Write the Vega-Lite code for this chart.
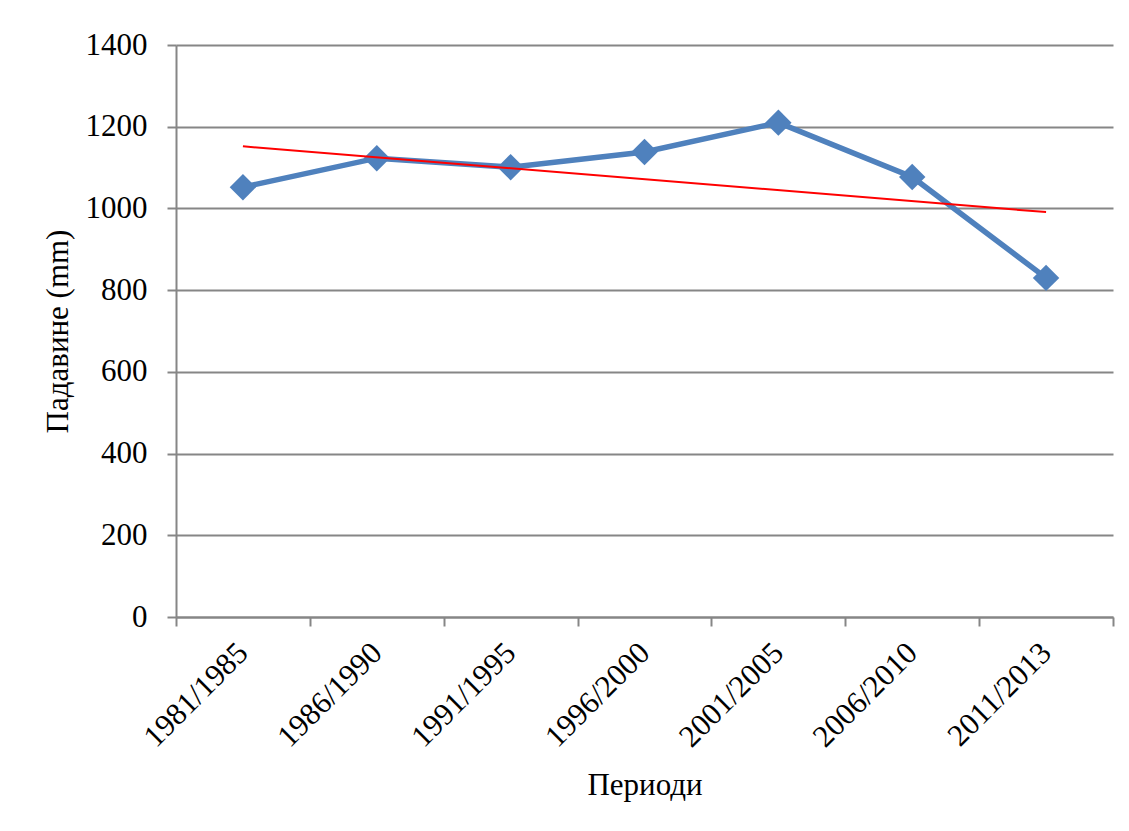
{
  "$schema": "https://vega.github.io/schema/vega-lite/v6.json",
  "autosize": "none",
  "width": 937,
  "height": 572,
  "padding": {"left": 176, "top": 45, "right": 16, "bottom": 214},
  "background": "white",
  "config": {
    "view": {"stroke": null},
    "font": "Liberation Serif",
    "axis": {
      "labelFont": "Liberation Serif",
      "titleFont": "Liberation Serif",
      "labelColor": "black",
      "titleColor": "black",
      "labelFontSize": 31,
      "titleFontSize": 31,
      "titleFontWeight": "normal",
      "domainColor": "#868686",
      "domainWidth": 2,
      "tickColor": "#868686",
      "tickWidth": 2,
      "gridColor": "#868686",
      "gridWidth": 2
    }
  },
  "data": {
    "values": [
      {"period": "1981/1985", "value": 1052, "trend": 1152},
      {"period": "1986/1990", "value": 1123, "trend": null},
      {"period": "1991/1995", "value": 1101, "trend": null},
      {"period": "1996/2000", "value": 1138, "trend": null},
      {"period": "2001/2005", "value": 1210, "trend": null},
      {"period": "2006/2010", "value": 1077, "trend": null},
      {"period": "2011/2013", "value": 830, "trend": 991}
    ]
  },
  "encoding": {
    "x": {
      "field": "period",
      "type": "ordinal",
      "sort": null,
      "bandPosition": 0.5,
      "scale": {"type": "band", "paddingInner": 0, "paddingOuter": 0},
      "axis": {
        "title": "Периоди",
        "tickBand": "extent",
        "tickSize": 9,
        "labelAngle": -45,
        "labelAlign": "right",
        "labelBaseline": "middle",
        "labelPadding": 22,
        "titlePadding": 18,
        "grid": false
      }
    }
  },
  "layer": [
    {
      "mark": {"type": "line", "color": "#4F81BD", "strokeWidth": 5.5, "point": {"shape": "diamond", "size": 700, "filled": true, "color": "#4F81BD"}},
      "encoding": {
        "y": {
          "field": "value",
          "type": "quantitative",
          "scale": {"domain": [0, 1400], "nice": false},
          "axis": {
            "title": "Падавине (mm)",
            "format": "d",
            "values": [0, 200, 400, 600, 800, 1000, 1200, 1400],
            "tickSize": 9,
            "labelPadding": 20,
            "titlePadding": 11,
            "grid": true
          }
        }
      }
    },
    {
      "transform": [{"filter": "datum.trend != null"}],
      "mark": {"type": "line", "color": "#FF0000", "strokeWidth": 2},
      "encoding": {
        "y": {"field": "trend", "type": "quantitative"}
      }
    }
  ]
}
